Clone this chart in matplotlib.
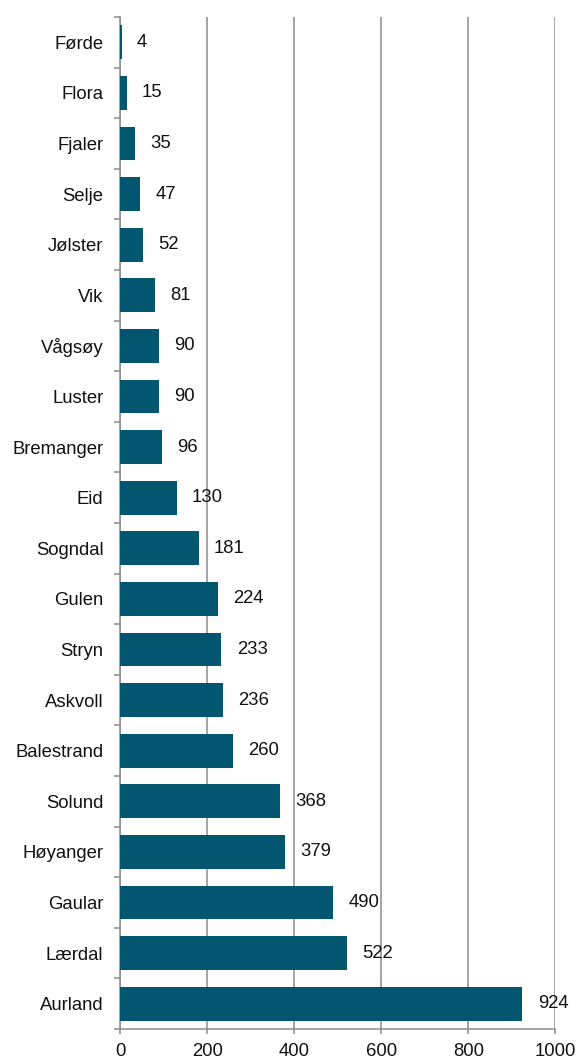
import numpy as np
from matplotlib import pyplot as plt

plt.rcParams['font.family'] = ['Liberation Sans', 'DejaVu Sans']

# data, top to bottom as shown
kommuner = ['Førde', 'Flora', 'Fjaler', 'Selje', 'Jølster', 'Vik', 'Vågsøy',
            'Luster', 'Bremanger', 'Eid', 'Sogndal', 'Gulen', 'Stryn',
            'Askvoll', 'Balestrand', 'Solund', 'Høyanger', 'Gaular',
            'Lærdal', 'Aurland']
verdier = [4, 15, 35, 47, 52, 81, 90, 90, 96, 130, 181, 224, 233, 236, 260,
           368, 379, 490, 522, 924]
x_ticks = [0, 200, 400, 600, 800, 1000]

bar_color = '#03566f'
grid_color = '#8c8c8c'
fs = 13.3

fig = plt.figure(figsize=(5.77, 10.57), dpi=100)
ax = fig.add_axes([0.208, 0.0265, 0.7547, 0.9574])

n = len(kommuner)
y = np.arange(n)[::-1]
ax.barh(y, verdier, height=0.67, color=bar_color, zorder=3)

for yi, v in zip(y, verdier):
    ax.annotate(str(v), (v, yi), xytext=(11, 0), textcoords='offset points',
                ha='left', va='center', fontsize=fs, color='#111111', zorder=4)

ax.set_xlim(0, 1000)
ax.set_ylim(-0.5, n - 0.5)
ax.set_xticks(x_ticks)
ax.set_xticklabels([str(t) for t in x_ticks], fontsize=fs, color='#111111')
ax.set_yticks(y)
ax.set_yticklabels(kommuner, fontsize=fs, color='#111111')
ax.set_yticks(np.arange(-0.5, n, 1.0), minor=True)

ax.tick_params(axis='y', which='major', length=0, pad=12)
ax.tick_params(axis='y', which='minor', length=4.3, width=1.1, color=grid_color, direction='out')
ax.tick_params(axis='x', length=3.8, width=1.1, color=grid_color, pad=6.5)

ax.grid(axis='x', color=grid_color, linewidth=1.1, zorder=0)
ax.set_axisbelow(True)
for s in ['top', 'right']:
    ax.spines[s].set_visible(False)
for s in ['left', 'bottom']:
    ax.spines[s].set_color(grid_color)
    ax.spines[s].set_linewidth(1.1)

plt.savefig('out.png', dpi=100)
